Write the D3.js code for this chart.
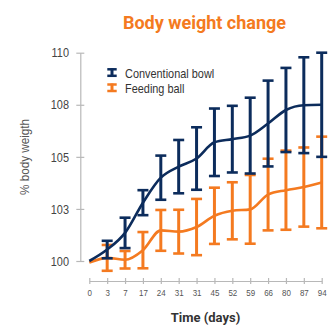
<!DOCTYPE html>
<html><head><meta charset="utf-8">
<script src="https://cdn.jsdelivr.net/npm/d3@7"></script>
<style>body{margin:0;background:#fff}svg{display:block}</style></head>
<body>
<script>
const categories = ["0","3","7","17","24","31","31","45","52","59","66","80","87","94"];
const bowlMean = [100.0,100.55,101.35,102.8,104.0,104.53,104.92,105.7,105.85,106.02,106.6,107.25,107.48,107.5];
const bowlErr  = [null,0.42,0.73,0.6,1.06,1.28,1.5,1.62,1.6,1.82,2.06,2.02,2.3,2.5];
const ballMean = [99.92,100.15,100.06,100.52,101.47,101.41,101.63,102.17,102.41,102.48,103.19,103.4,103.55,103.77];
const ballErr  = [null,0.62,0.42,0.87,0.98,1.05,1.35,1.35,1.37,1.65,1.72,1.9,1.9,2.2];
const yTicks = [100,102.5,105,107.5,110];
const yTickLabels = ["100","103","105","108","110"];
const seriesNames = ["Conventional bowl","Feeding ball"];

const W=331,H=325;
const NAVY="#0c2c5c", ORANGE="#f47a20", AXIS="#b8b8b8";
const sans="'Liberation Sans',Arial,sans-serif";
const SX=0.84;

const svg=d3.select("body").append("svg").attr("width",W).attr("height",H);

const x=d3.scalePoint().domain(d3.range(categories.length)).range([89.3,321.7]);
const y=d3.scaleLinear().domain([100,110]).range([261,52.7]);

// title
svg.append("text").attr("x",204.5).attr("y",28.5).attr("text-anchor","middle")
  .attr("fill",ORANGE).attr("font-family","Roboto,sans-serif").attr("font-weight",700)
  .attr("font-size",18).text("Body weight change");

// y axis
const yAx=svg.append("g").attr("transform","translate(80.3,0)")
  .call(d3.axisLeft(y).tickValues(yTicks).tickFormat((d,i)=>yTickLabels[i]).tickSizeOuter(0).tickSizeInner(4).tickPadding(7));
yAx.select(".domain").attr("stroke",AXIS).attr("stroke-width",1.2);
yAx.selectAll(".tick line").attr("stroke",AXIS).attr("stroke-width",1.2).attr("x1",4).attr("x2",-4);
yAx.selectAll(".tick text").attr("fill","#444").attr("font-family",sans).attr("font-size",13)
  .attr("x",-11.3/SX).attr("transform",`scale(${SX},1)`);

// x axis
const xAx=svg.append("g").attr("transform","translate(0,281)")
  .call(d3.axisBottom(x).tickFormat(i=>categories[i]).tickSizeOuter(0).tickSizeInner(3).tickPadding(5));
xAx.select(".domain").attr("stroke",AXIS).attr("stroke-width",1.2);
xAx.selectAll(".tick line").attr("stroke",AXIS).attr("stroke-width",1.2).attr("y1",-3).attr("y2",3);
xAx.selectAll(".tick text").attr("fill","#555").attr("font-family",sans).attr("font-size",9.5)
  .attr("transform",`scale(${SX},1)`);

// axis titles
svg.append("text").attr("transform","translate(29,157) rotate(-90) scale(0.9,1)").attr("text-anchor","middle")
  .attr("fill","#555").attr("font-family",sans).attr("font-size",13).text("% body weigth");
svg.append("text").attr("x",205.5).attr("y",322).attr("text-anchor","middle")
  .attr("fill","#333").attr("font-family","Roboto,sans-serif").attr("font-weight",700)
  .attr("font-size",13).text("Time (days)");

function drawSeries(mean,err,color){
  const g=svg.append("g");
  const line=d3.line().x((d,i)=>x(i)).y(d=>y(d)).curve(d3.curveMonotoneX);
  g.append("path").datum(mean).attr("d",line).attr("fill","none").attr("stroke",color).attr("stroke-width",2.6);
  const idx=d3.range(mean.length).filter(i=>err[i]!=null);
  const cw=5.5;
  g.selectAll(".v").data(idx).join("line").attr("x1",i=>x(i)).attr("x2",i=>x(i))
    .attr("y1",i=>y(mean[i]+err[i])).attr("y2",i=>y(mean[i]-err[i])).attr("stroke",color).attr("stroke-width",3);
  g.selectAll(".t").data(idx).join("line").attr("x1",i=>x(i)-cw).attr("x2",i=>x(i)+cw)
    .attr("y1",i=>y(mean[i]+err[i])).attr("y2",i=>y(mean[i]+err[i])).attr("stroke",color).attr("stroke-width",2.6);
  g.selectAll(".b").data(idx).join("line").attr("x1",i=>x(i)-cw).attr("x2",i=>x(i)+cw)
    .attr("y1",i=>y(mean[i]-err[i])).attr("y2",i=>y(mean[i]-err[i])).attr("stroke",color).attr("stroke-width",2.6);
}
drawSeries(ballMean,ballErr,ORANGE);
drawSeries(bowlMean,bowlErr,NAVY);

// legend
const leg=[{name:seriesNames[0],c:NAVY,y:68.3},{name:seriesNames[1],c:ORANGE,y:83.5}];
leg.forEach(l=>{
  const g=svg.append("g");
  g.append("line").attr("x1",112).attr("x2",112).attr("y1",l.y).attr("y2",l.y+8.5).attr("stroke",l.c).attr("stroke-width",3);
  g.append("line").attr("x1",107.3).attr("x2",116.7).attr("y1",l.y+1).attr("y2",l.y+1).attr("stroke",l.c).attr("stroke-width",2.5);
  g.append("line").attr("x1",107.3).attr("x2",116.7).attr("y1",l.y+7.5).attr("y2",l.y+7.5).attr("stroke",l.c).attr("stroke-width",2.5);
  g.append("text").attr("transform",`translate(125,${l.y+9.5}) scale(${SX},1)`).attr("fill","#333")
    .attr("font-family",sans).attr("font-size",13).text(l.name);
});
</script>
</body></html>
